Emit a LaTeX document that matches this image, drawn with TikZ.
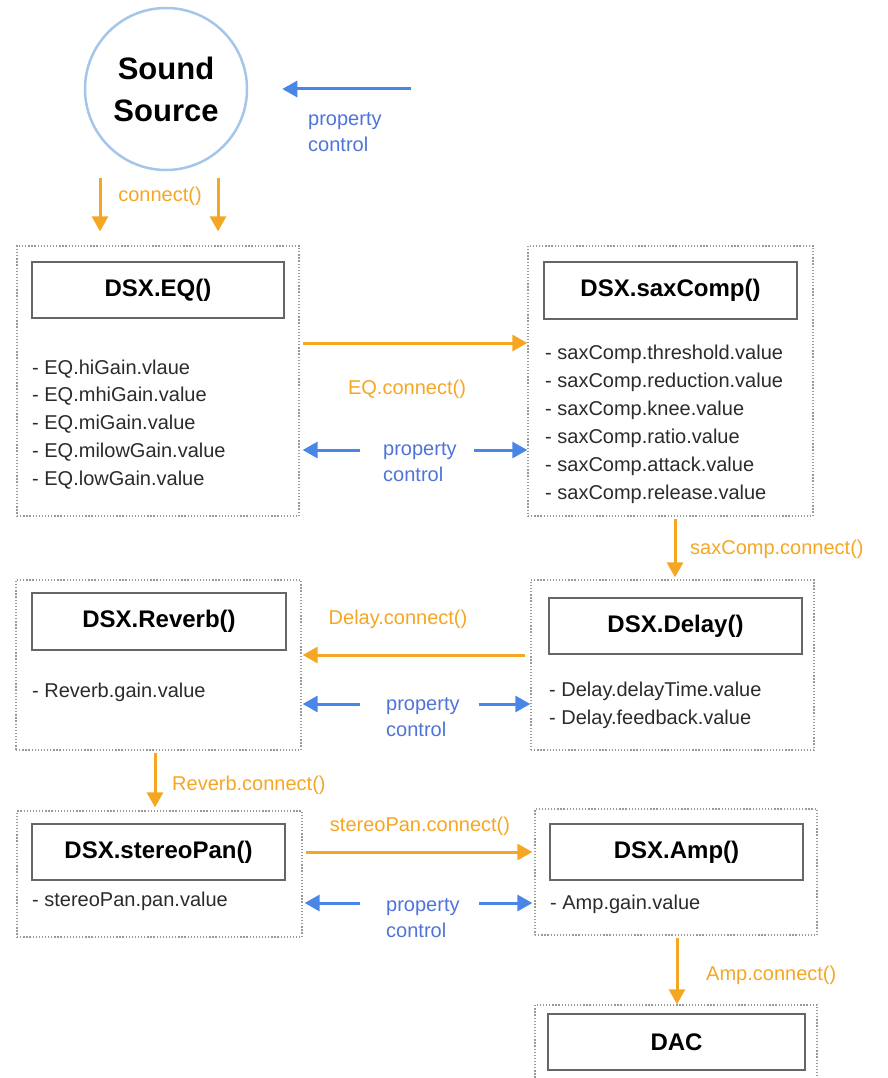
\documentclass[tikz,border=0pt]{standalone}
\usepackage{fontspec}
\setmainfont{Liberation Sans}
\usetikzlibrary{arrows.meta}
\definecolor{flow}{HTML}{F5A623}
\definecolor{ctrl}{HTML}{4A86E8}
\definecolor{ctrltext}{HTML}{4F73D9}
\definecolor{ring}{HTML}{A4C6EA}
\definecolor{itemgray}{HTML}{2B2B2B}
\begin{document}
\begin{tikzpicture}[x=1pt,y=-1pt,
  grp/.style n args={2}{draw=black!40, dash pattern=on 1.3pt off 1.8pt, line width=1.3pt,
    minimum width=#1, minimum height=#2, inner sep=0pt},
  ttl/.style n args={2}{draw=black!60, line width=1.5pt, fill=white,
    minimum width=#1, minimum height=#2, inner sep=0pt,
    font=\fontsize{24}{28}\selectfont\bfseries},
  itm/.style={anchor=base west, inner sep=0pt, text=itemgray,
    font=\fontsize{20}{24}\selectfont},
  flowlbl/.style={inner sep=0pt, text=flow, font=\fontsize{20}{24}\selectfont},
  ctrllbl/.style={inner sep=0pt, text=ctrltext, align=left, anchor=west,
    font=\fontsize{20}{26}\selectfont},
  farrow/.style={draw=flow, line width=3pt, -{Triangle[length=15pt,width=16pt]}},
  carrow/.style={draw=ctrl, line width=3pt, -{Triangle[length=15pt,width=16pt]}}]

\useasboundingbox (0,0) rectangle (888,1078);

% sound source
\node[circle, draw=ring, line width=2.5pt, minimum size=162pt, align=center,
  font=\fontsize{31}{42}\selectfont\bfseries] (ss) at (166,89) {Sound\\Source};
\coordinate (ctrlin) at (411,89);
\node[ctrllbl] (pc0) at (308,132) {property\\control};

% processing groups
\node[grp={282}{270}] (eqo) at (158,381) {};
\node[ttl={252}{56}] (eqt) at (158,290) {DSX.EQ()};
\foreach \t [count=\i] in {EQ.hiGain.vlaue, EQ.mhiGain.value, EQ.miGain.value,
    EQ.milowGain.value, EQ.lowGain.value}
  \node[itm] (eqi\i) at (32,374+27.75*\i-27.75) {- \t};

\node[grp={285}{270}] (saxo) at (670.5,381) {};
\node[ttl={253}{57}] (saxt) at (670.5,290.5) {DSX.saxComp()};
\foreach \t [count=\i] in {saxComp.threshold.value, saxComp.reduction.value,
    saxComp.knee.value, saxComp.ratio.value, saxComp.attack.value, saxComp.release.value}
  \node[itm] (saxi\i) at (545,359+28*\i-28) {- \t};

\node[grp={285}{170}] (revo) at (158.5,665) {};
\node[ttl={254}{57}] (revt) at (159,621.5) {DSX.Reverb()};
\node[itm] (revi1) at (32,697) {- Reverb.gain.value};

\node[grp={283}{170}] (delo) at (672.5,665) {};
\node[ttl={253}{56}] (delt) at (675.5,626) {DSX.Delay()};
\node[itm] (deli1) at (549,696) {- Delay.delayTime.value};
\node[itm] (deli2) at (549,724) {- Delay.feedback.value};

\node[grp={285}{126}] (steo) at (159.5,874) {};
\node[ttl={253}{56}] (stet) at (158.5,852) {DSX.stereoPan()};
\node[itm] (stei1) at (32,906) {- stereoPan.pan.value};

\node[grp={282}{126}] (ampo) at (676,872) {};
\node[ttl={253}{56}] (ampt) at (676.5,852) {DSX.Amp()};
\node[itm] (ampi1) at (550,909) {- Amp.gain.value};

\node[grp={282}{90}] (daco) at (676,1050) {};
\node[ttl={257}{56}] (dact) at (676.5,1042) {DAC};

% signal flow
\draw[farrow, shorten <=7pt, shorten >=14pt] (ss.south -| 100,0) -- (eqo.north -| 100,0);
\draw[farrow, shorten <=7pt, shorten >=14pt] (ss.south -| 218,0) -- (eqo.north -| 218,0);
\node[flowlbl] (l0) at (160,196) {connect()};

\draw[farrow, shorten <=3pt] (eqo.east |- 0,343) -- (saxo.west |- 0,343);
\node[flowlbl] (l1) at (407,389) {EQ.connect()};

\draw[farrow, shorten <=2pt, shorten >=2pt] (saxo.south -| 675,0) -- (delo.north -| 675,0);
\node[flowlbl, anchor=west] (l2) at (690,549) {saxComp.connect()};

\draw[farrow, shorten <=5pt, shorten >=1pt] (delo.west |- 0,655) -- (revo.east |- 0,655);
\node[flowlbl] (l3) at (398,619) {Delay.connect()};

\draw[farrow, shorten <=2pt, shorten >=3pt] (revo.south -| 155,0) -- (steo.north -| 155,0);
\node[flowlbl, anchor=west] (l4) at (172,785) {Reverb.connect()};

\draw[farrow, shorten <=3pt, shorten >=2pt] (steo.east |- 0,852) -- (ampo.west |- 0,852);
\node[flowlbl] (l5) at (420,826) {stereoPan.connect()};

\draw[farrow, shorten <=2pt] (ampo.south -| 677,0) -- (daco.north -| 677,0);
\node[flowlbl, anchor=west] (l6) at (706,975) {Amp.connect()};

% property control
\draw[carrow, shorten >=34pt] (ctrlin) -- (ss.east |- ctrlin);

\node[ctrllbl] (pc1) at (383,462) {property\\control};
\draw[carrow, shorten <=23pt, shorten >=3pt] (pc1.west |- 0,450) -- (eqo.east |- 0,450);
\draw[carrow, shorten <=17pt] (pc1.east |- 0,450) -- (saxo.west |- 0,450);

\node[ctrllbl] (pc2) at (386,717) {property\\control};
\draw[carrow, shorten <=26pt, shorten >=1pt] (pc2.west |- 0,704) -- (revo.east |- 0,704);
\draw[carrow, shorten <=19pt] (pc2.east |- 0,704) -- (delo.west |- 0,704);

\node[ctrllbl] (pc3) at (386,918) {property\\control};
\draw[carrow, shorten <=26pt, shorten >=2pt] (pc3.west |- 0,903) -- (steo.east |- 0,903);
\draw[carrow, shorten <=19pt, shorten >=2pt] (pc3.east |- 0,903) -- (ampo.west |- 0,903);
\end{tikzpicture}
\end{document}
